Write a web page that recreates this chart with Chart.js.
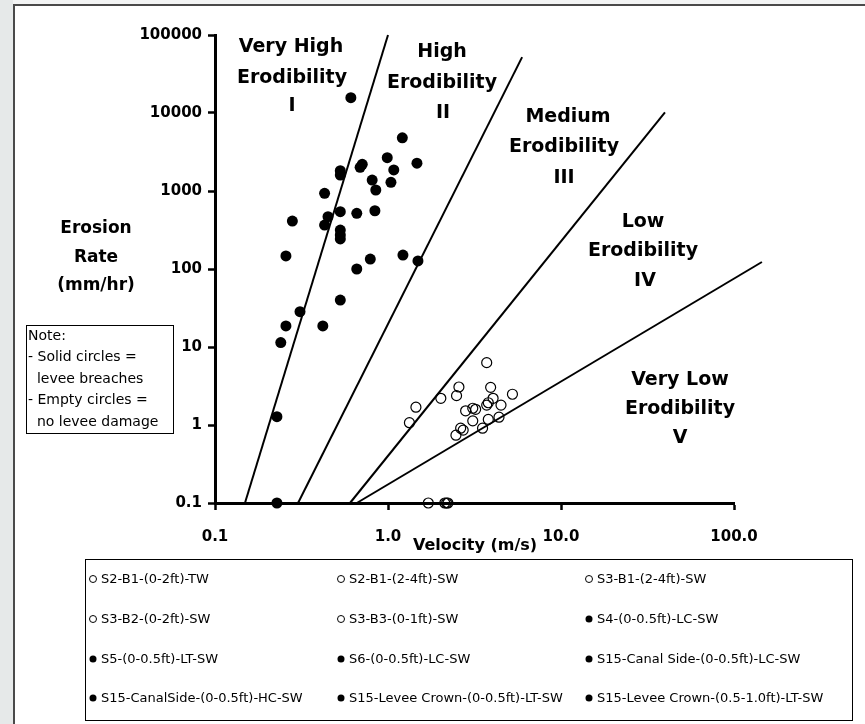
<!DOCTYPE html>
<html>
<head>
<meta charset="utf-8">
<script src="https://cdn.jsdelivr.net/npm/chart.js@4"></script>
<style>
  html, body { margin: 0; padding: 0; background: #fff; }
  canvas { display: block; }
</style>
</head>
<body>
<canvas id="grafico" width="865" height="724"></canvas>
<script>
// ---- dados: [velocidade m/s, taxa de erosão mm/hr] ----
const xTicks = [0.1, 1, 10, 100];
const xTickLabels = ['0.1', '1.0', '10.0', '100.0'];
const yTicks = [0.1, 1, 10, 100, 1000, 10000, 100000];
const yTickLabels = ['0.1', '1', '10', '100', '1000', '10000', '100000'];

const seriesLabels = [
  'S2-B1-(0-2ft)-TW', 'S2-B1-(2-4ft)-SW', 'S3-B1-(2-4ft)-SW',
  'S3-B2-(0-2ft)-SW', 'S3-B3-(0-1ft)-SW', 'S4-(0-0.5ft)-LC-SW',
  'S5-(0-0.5ft)-LT-SW', 'S6-(0-0.5ft)-LC-SW', 'S15-Canal Side-(0-0.5ft)-LC-SW',
  'S15-CanalSide-(0-0.5ft)-HC-SW', 'S15-Levee Crown-(0-0.5ft)-LT-SW', 'S15-Levee Crown-(0.5-1.0ft)-LT-SW'
];
// true = círculo cheio (rompimento), false = vazio (sem dano)
const seriesSolid = [false, false, false, false, false, true, true, true, true, true, true, true];

const s2b1_02_TW = [[3.72, 6.3], [3.92, 3.04], [5.24, 2.48], [4.05, 2.2], [4.50, 1.80]];
const s2b1_24_SW = [[2.57, 3.07], [2.49, 2.38], [2.02, 2.2], [1.45, 1.69], [1.33, 1.07]];
const s3b1_24_SW = [[3.72, 1.80], [3.80, 1.93], [3.21, 1.59], [3.09, 1.64], [2.81, 1.52]];
const s3b2_02_SW = [[3.09, 1.13], [3.80, 1.18], [4.38, 1.26], [3.52, 0.91], [1.71, 0.1]];
const s3b3_01_SW = [[2.63, 0.91], [2.72, 0.86], [2.47, 0.74], [2.13, 0.1], [2.18, 0.1], [2.22, 0.1]];
const s4_LC = [[0.61, 15700], [1.21, 4800], [1.47, 2270], [0.99, 2670], [1.08, 1860]];
const s5_LT = [[1.04, 1290], [0.71, 2200], [0.69, 2010], [0.53, 1820], [0.53, 1600]];
const s6_LC = [[0.81, 1380], [0.85, 1030], [0.43, 935], [0.53, 543], [0.66, 517]];
const s15_CS_LC = [[0.84, 558], [0.45, 469], [0.43, 366], [0.28, 412], [0.53, 316]];
const s15_CS_HC = [[0.53, 273], [0.53, 243], [0.257, 147], [1.22, 151], [0.79, 134]];
const s15_LC_005 = [[1.49, 127], [0.66, 100], [0.53, 40], [0.31, 28.4], [0.257, 18.6]];
const s15_LC_0510 = [[0.42, 18.6], [0.24, 11.4], [0.228, 1.28], [0.228, 0.1]];
const seriesData = [s2b1_02_TW, s2b1_24_SW, s3b1_24_SW, s3b2_02_SW, s3b3_01_SW, s4_LC,
  s5_LT, s6_LC, s15_CS_LC, s15_CS_HC, s15_LC_005, s15_LC_0510];

// linhas de fronteira das classes de erodibilidade (pontas)
const lineI = [[0.149, 0.1], [1.0, 100000]];
const lineII = [[0.302, 0.1], [5.96, 52000]];
const lineIII = [[0.603, 0.1], [39.9, 10200]];
const lineIV = [[0.66, 0.1], [145, 123]];
const boundaryLines = [lineI, lineII, lineIII, lineIV];

// rótulos das regiões
const regionNames = [
  ['Very High', 'Erodibility', 'I'],
  ['High', 'Erodibility', 'II'],
  ['Medium', 'Erodibility', 'III'],
  ['Low', 'Erodibility', 'IV'],
  ['Very Low', 'Erodibility', 'V']
];
const yTitleLines = ['Erosion', 'Rate', '(mm/hr)'];
const xTitle = 'Velocity (m/s)';
const noteLines = ['Note:', '- Solid circles =', '  levee breaches', '- Empty circles =', '  no levee damage'];

const FONTE = "'DejaVu Sans', sans-serif";

// Montar datasets
const datasets = [];
seriesData.forEach((pts, i) => {
  datasets.push({
    label: seriesLabels[i],
    data: pts.map(p => ({ x: p[0], y: p[1] })),
    pointRadius: seriesSolid[i] ? 5.5 : 5,
    pointHoverRadius: seriesSolid[i] ? 5.5 : 5,
    pointBackgroundColor: seriesSolid[i] ? '#000' : 'rgba(0,0,0,0)',
    pointBorderColor: '#000',
    pointBorderWidth: seriesSolid[i] ? 0 : 1.2,
    showLine: false,
    clip: false,
    order: 0,
    _solid: seriesSolid[i]
  });
});
boundaryLines.forEach(l => {
  datasets.push({
    label: '',
    data: l.map(p => ({ x: p[0], y: p[1] })),
    showLine: true,
    borderColor: '#000',
    borderWidth: 2,
    pointRadius: 0,
    clip: false,
    order: 1,
    _boundary: true
  });
});

// Plugin: fundo e moldura
const fundoPlugin = {
  id: 'fundo',
  beforeDraw(chart) {
    const c = chart.ctx;
    c.save();
    c.fillStyle = '#f3f4f4';
    c.fillRect(0, 0, 865, 724);
    c.fillStyle = '#e6e9e9';
    c.fillRect(0, 0, 13, 724);
    c.fillStyle = '#fff';
    c.fillRect(14, 5, 851, 719);
    c.strokeStyle = '#4a4a4a';
    c.lineWidth = 2;
    c.beginPath();
    c.moveTo(14, 724);
    c.lineTo(14, 5);
    c.lineTo(865, 5);
    c.stroke();
    c.restore();
  }
};

// Plugin: textos, nota e legenda
const textosPlugin = {
  id: 'textos',
  afterDraw(chart) {
    const c = chart.ctx;
    c.save();
    c.fillStyle = '#000';
    c.textAlign = 'center';
    c.textBaseline = 'middle';

    // rótulos das regiões
    const regPos = [
      [[291, 47], [292, 78], [292, 106]],
      [[442, 52], [442, 83], [443, 113]],
      [[568, 117], [564, 147], [564, 178]],
      [[643, 222], [643, 251], [645, 281]],
      [[680, 380], [680, 409], [680, 438]]
    ];
    c.font = 'bold 19px ' + FONTE;
    regionNames.forEach((linhas, i) => {
      linhas.forEach((t, j) => c.fillText(t, regPos[i][j][0], regPos[i][j][1]));
    });

    // título eixo Y
    c.font = 'bold 17px ' + FONTE;
    yTitleLines.forEach((t, j) => c.fillText(t, 96, 229 + j * 28.5));

    // título eixo X
    c.font = 'bold 16px ' + FONTE;
    c.fillText(xTitle, 475, 546);

    // caixa de nota
    c.strokeStyle = '#000';
    c.lineWidth = 1;
    c.strokeRect(26.5, 325.5, 147, 108);
    c.textAlign = 'left';
    c.font = '14px ' + FONTE;
    noteLines.forEach((t, j) => c.fillText(t, 28, 336 + j * 21.5));

    // legenda
    c.strokeRect(85.5, 559.5, 767, 161);
    c.font = '13px ' + FONTE;
    const colX = [93, 341, 589];
    const rowY = [579, 619, 659, 698];
    chart.data.datasets.filter(d => !d._boundary).forEach((d, i) => {
      const mx = colX[i % 3];
      const my = rowY[Math.floor(i / 3)];
      c.beginPath();
      c.arc(mx, my, 3.5, 0, Math.PI * 2);
      if (d._solid) {
        c.fill();
      } else {
        c.lineWidth = 1;
        c.stroke();
      }
      c.fillText(d.label, mx + 8, my + 1);
    });
    c.restore();
  }
};

const eixoComum = {
  type: 'logarithmic',
  border: { display: true, color: '#000', width: 3 },
  grid: { display: true, drawOnChartArea: false, drawTicks: true, tickLength: 7, tickWidth: 2.5, tickColor: '#000' }
};

new Chart(document.getElementById('grafico').getContext('2d'), {
  type: 'scatter',
  data: { datasets },
  plugins: [fundoPlugin, textosPlugin],
  options: {
    responsive: false,
    animation: false,
    events: [],
    layout: { padding: { left: 0, top: 35, right: 131, bottom: 171 } },
    plugins: {
      legend: { display: false },
      tooltip: { enabled: false }
    },
    scales: {
      x: {
        ...eixoComum,
        position: 'bottom',
        min: 0.1,
        max: 100,
        afterBuildTicks: s => { s.ticks = xTicks.map(v => ({ value: v })); },
        afterFit: s => { s.height = 50; },
        ticks: {
          color: '#000',
          padding: 18,
          maxRotation: 0,
          autoSkip: false,
          font: { family: FONTE, weight: 'bold', size: 15 },
          callback: v => xTickLabels[xTicks.indexOf(v)] ?? ''
        }
      },
      y: {
        ...eixoComum,
        position: 'left',
        min: 0.1,
        max: 100000,
        afterBuildTicks: s => { s.ticks = yTicks.map(v => ({ value: v })); },
        afterFit: s => { s.width = 215; },
        ticks: {
          color: '#000',
          padding: 6,
          autoSkip: false,
          font: { family: FONTE, weight: 'bold', size: 15 },
          callback: v => yTickLabels[yTicks.indexOf(v)] ?? ''
        }
      }
    }
  }
});
</script>
</body>
</html>
